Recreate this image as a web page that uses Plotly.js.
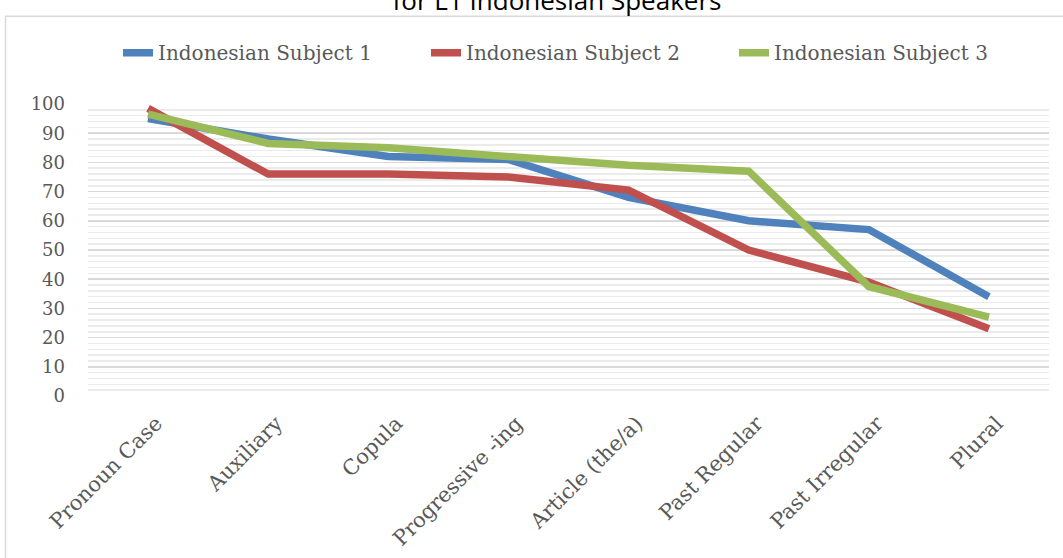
<!DOCTYPE html>
<html>
<head>
<meta charset="utf-8">
<script src="https://cdn.plot.ly/plotly-3.0.1.min.js"></script>
<style>html,body{margin:0;padding:0;background:#fff;}#chart{width:1063px;height:558px;}</style>
</head>
<body>
<div id="chart"></div>
<script>
var categories = ["Pronoun Case", "Auxiliary", "Copula", "Progressive -ing", "Article (the/a)", "Past Regular", "Past Irregular", "Plural"];
var subject1 = [95, 88, 82, 81, 68, 60, 57, 34];
var subject2 = [98.5, 76, 76, 75, 70.5, 50, 39, 23];
var subject3 = [96.5, 86.5, 85, 82, 79, 77, 37.5, 27];
var seriesNames = ["Indonesian Subject 1", "Indonesian Subject 2", "Indonesian Subject 3"];
var yTicks = [0, 10, 20, 30, 40, 50, 60, 70, 80, 90, 100];
var titleText = "for L1 Indonesian Speakers";

var colors = ["#4F81BD", "#C0504D", "#9BBB59"];
var seriesVals = [subject1, subject2, subject3];
var traces = seriesVals.map(function (v, i) {
  return {
    type: "scatter", mode: "lines", x: categories, y: v, name: seriesNames[i],
    line: {color: colors[i], width: 7.5}, hoverinfo: "skip"
  };
});

var W = 1063, H = 558, L = 88, R = 14, T = 103.5, B = 161.5;
var pw = W - L - R, ph = H - T - B;
function px2x(p) { return (p - L) / pw; }
function px2y(p) { return (H - B - p) / ph; }

var layout = {
  width: W, height: H,
  margin: {l: L, r: R, t: T, b: B, pad: 0},
  paper_bgcolor: "#ffffff", plot_bgcolor: "#ffffff",
  font: {family: "DejaVu Serif", color: "#595959", size: 18},
  title: {text: titleText, x: 557 / W, xref: "container", xanchor: "center", y: 1 - 1 / H, yref: "container", yanchor: "middle",
          font: {family: "Open Sans", size: 26, color: "#000000"}},
  showlegend: true,
  legend: {orientation: "h", x: px2x(118), xanchor: "left", y: px2y(52), yanchor: "middle",
           font: {family: "DejaVu Serif", size: 20, color: "#595959"}, itemwidth: 30, entrywidth: 263, tracegroupgap: 0},
  xaxis: {type: "category", tickangle: -45, showgrid: false, zeroline: false, showline: false, ticks: "",
          ticklabelstandoff: 10, ticklabelshift: 8, range: [-0.5, categories.length - 0.5],
          tickfont: {family: "DejaVu Serif", size: 21, color: "#595959"}},
  yaxis: {range: [0, 100], tickvals: yTicks, ticktext: yTicks.map(String), showline: false, zeroline: false,
          gridcolor: "#d9d9d9", gridwidth: 1.5, ticks: "", ticklabelstandoff: 22,
          minor: {dtick: 2, showgrid: true, gridcolor: "#ebebeb", gridwidth: 1.5},
          tickfont: {family: "DejaVu Serif", size: 18, color: "#595959"}},
  shapes: [{type: "rect", xref: "paper", yref: "paper", x0: px2x(5.5), x1: px2x(1070), y0: px2y(570), y1: px2y(15.5),
            line: {color: "#d9d9d9", width: 1.5}, fillcolor: "rgba(0,0,0,0)", layer: "below"}]
};

Plotly.newPlot("chart", traces, layout, {staticPlot: true, displayModeBar: false});
</script>
</body>
</html>
